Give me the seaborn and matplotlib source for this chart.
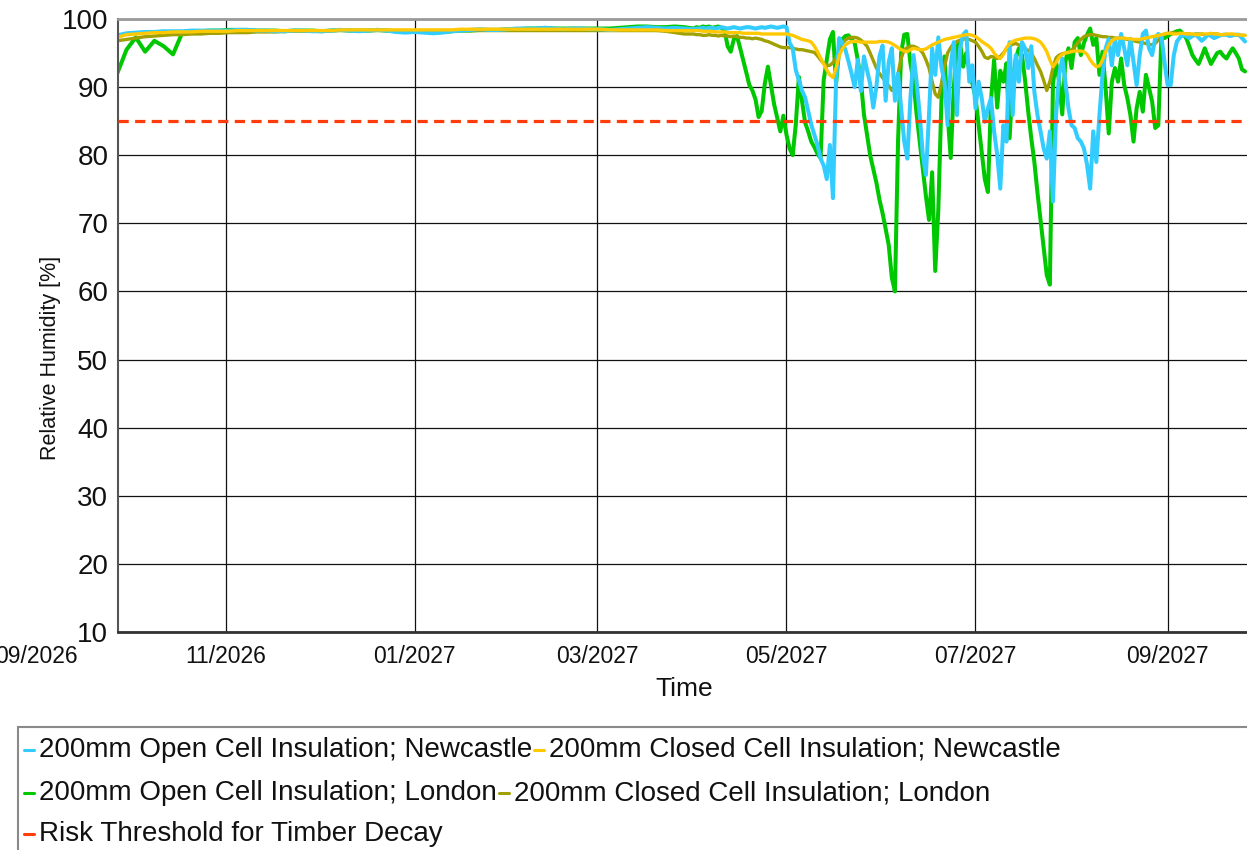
import matplotlib
matplotlib.use("Agg")
import matplotlib.pyplot as plt
import matplotlib.transforms as mtransforms
from matplotlib.lines import Line2D
from matplotlib.patches import Rectangle
import numpy as np
import pandas as pd
import seaborn as sns

# ---------------------------------------------------------------------------
# Series names, threshold and axis labels
# ---------------------------------------------------------------------------
series_labels = [
    "200mm Open Cell Insulation; Newcastle",
    "200mm Closed Cell Insulation; Newcastle",
    "200mm Open Cell Insulation; London",
    "200mm Closed Cell Insulation; London",
]
threshold_label = "Risk Threshold for Timber Decay"
threshold_value = 85.0
x_tick_labels = ["09/2026", "11/2026", "01/2027", "03/2027", "05/2027", "07/2027", "09/2027"]
y_ticks = [10, 20, 30, 40, 50, 60, 70, 80, 90, 100]

# Winter period: one reading every 3 days from 27 Sep 2026
winter_dates = pd.date_range("2026-09-27", periods=62, freq="3D")
# Summer period: daily readings from 1 Apr 2027
summer_dates = pd.date_range("2027-04-01", periods=179, freq="D")

# ---------------------------------------------------------------------------
# Relative humidity [%] at the timber surface
# ---------------------------------------------------------------------------
newcastle_open_winter = [
    97.6, 97.9, 98.0, 98.1, 98.1, 98.2, 98.2, 98.2, 98.3, 98.3,
    98.3, 98.3, 98.3, 98.4, 98.4, 98.3, 98.3, 98.2, 98.2, 98.3,
    98.3, 98.2, 98.2, 98.3, 98.4, 98.3, 98.2, 98.3, 98.4, 98.3,
    98.1, 98.0, 98.1, 98.0, 97.9, 98.0, 98.2, 98.3, 98.4, 98.5,
    98.4, 98.4, 98.5, 98.6, 98.6, 98.6, 98.7, 98.6, 98.5, 98.6,
    98.6, 98.5, 98.5, 98.4, 98.5, 98.6, 98.7, 98.8, 98.7, 98.6,
    98.7, 98.6,
]
newcastle_open_summer = [
    98.5, 98.6, 98.6, 98.7, 98.6, 98.7, 98.7, 98.6, 98.7, 98.8,
    98.7, 98.6, 98.7, 98.8, 98.7, 98.6, 98.7, 98.8, 98.8, 98.7,
    98.6, 98.7, 98.8, 98.7, 98.8, 98.9, 98.8, 98.7, 98.8, 98.9,
    98.8, 96.5, 95.7, 92.5, 91.0, 89.5, 88.5, 86.5, 84.5, 83.0,
    81.5, 79.5, 78.5, 76.5, 81.5, 73.7, 91.0, 97.2, 96.5, 95.5,
    93.8, 92.0, 90.0, 94.0, 89.4, 94.5, 92.5, 90.5, 87.0, 90.0,
    94.5, 96.1, 88.0, 93.7, 95.7, 88.0, 92.0, 86.9, 82.0, 79.5,
    88.4, 94.7, 90.8, 85.9, 80.0, 77.1, 86.0, 95.7, 91.8, 97.3,
    93.0, 90.8, 84.4, 93.2, 96.6, 85.9, 95.7, 97.7, 98.2, 90.8,
    93.2, 86.9, 90.8, 88.4, 84.9, 86.9, 88.4, 83.5, 80.1, 75.1,
    84.4, 82.0, 96.6, 85.9, 94.7, 90.8, 96.6, 95.7, 92.8, 96.0,
    89.3, 85.9, 83.5, 81.0, 79.5, 83.5, 73.2, 85.9, 91.8, 94.2,
    90.8, 86.9, 84.4, 84.0, 82.5, 82.0, 81.0, 78.6, 75.1, 83.5,
    79.0, 85.9, 91.8, 95.7, 97.1, 93.2, 97.1, 94.7, 97.8, 95.7,
    93.2, 97.1, 93.7, 90.3, 94.7, 97.8, 98.3, 95.7, 94.7, 97.2,
    97.8, 97.5, 93.7, 90.3, 90.3, 94.7, 96.7, 97.3, 97.7, 97.5,
    97.2, 97.5, 97.7, 97.3, 96.8, 97.2, 97.7, 97.5, 97.2, 97.4,
    97.6, 97.7, 97.7, 97.5, 97.6, 97.7, 97.7, 97.2, 96.7,
]

newcastle_closed_winter = [
    97.3, 97.7, 97.8, 97.9, 98.0, 98.0, 98.1, 98.1, 98.1, 98.2,
    98.2, 98.2, 98.2, 98.3, 98.3, 98.3, 98.3, 98.3, 98.3, 98.3,
    98.3, 98.3, 98.3, 98.3, 98.4, 98.4, 98.4, 98.4, 98.4, 98.4,
    98.4, 98.4, 98.4, 98.4, 98.4, 98.4, 98.4, 98.5, 98.5, 98.5,
    98.5, 98.5, 98.5, 98.5, 98.5, 98.5, 98.5, 98.5, 98.5, 98.5,
    98.5, 98.5, 98.5, 98.4, 98.4, 98.4, 98.4, 98.4, 98.4, 98.3,
    98.3, 98.3,
]
newcastle_closed_summer = [
    98.3, 98.3, 98.3, 98.2, 98.2, 98.2, 98.2, 98.1, 98.1, 98.1,
    98.1, 98.0, 98.0, 98.0, 98.0, 98.0, 97.9, 97.9, 97.9, 97.9,
    97.9, 97.9, 97.8, 97.8, 97.8, 97.8, 97.8, 97.8, 97.8, 97.8,
    97.8, 97.7, 97.6, 97.4, 97.2, 97.0, 96.9, 96.8, 96.6, 96.0,
    95.2, 94.3, 93.4, 92.5, 91.8, 91.4, 92.8, 94.6, 95.6, 96.2,
    96.5, 96.7, 96.7, 96.7, 96.6, 96.6, 96.6, 96.6, 96.6, 96.6,
    96.7, 96.7, 96.7, 96.6, 96.4, 96.1, 95.8, 95.5, 95.3, 95.2,
    95.5, 95.7, 95.6, 95.5, 95.5, 95.6, 95.9, 96.2, 96.4, 96.6,
    96.8, 97.0, 97.1, 97.2, 97.3, 97.4, 97.5, 97.6, 97.7, 97.7,
    97.6, 97.4, 97.1, 96.7, 96.4, 96.1, 95.7, 95.0, 94.5, 94.2,
    94.8, 95.8, 96.4, 96.7, 96.9, 97.0, 97.1, 97.2, 97.2, 97.2,
    97.1, 96.9, 96.6, 96.0, 95.2, 94.0, 93.0, 93.6, 94.4, 94.8,
    95.0, 95.1, 95.2, 95.3, 95.3, 95.3, 95.2, 94.8, 94.0, 93.4,
    93.0, 93.1, 94.0, 95.2, 96.2, 96.8, 97.1, 97.2, 97.2, 97.2,
    97.1, 97.1, 97.0, 97.0, 97.0, 97.1, 97.2, 97.3, 97.4, 97.5,
    97.6, 97.7, 97.8, 97.9, 97.9, 97.8, 97.8, 97.9, 97.9, 97.8,
    97.8, 97.8, 97.7, 97.7, 97.8, 97.8, 97.8, 97.9, 97.8, 97.8,
    97.7, 97.7, 97.8, 97.8, 97.8, 97.7, 97.7, 97.6, 97.6,
]

london_open_winter = [
    92.0, 95.5, 97.3, 95.2, 96.8, 96.0, 94.8, 98.0, 98.2, 98.2,
    98.3, 98.3, 98.4, 98.4, 98.4, 98.3, 98.3, 98.3, 98.2, 98.3,
    98.3, 98.3, 98.2, 98.3, 98.4, 98.3, 98.3, 98.3, 98.4, 98.3,
    98.2, 98.1, 98.2, 98.1, 98.1, 98.1, 98.2, 98.3, 98.3, 98.4,
    98.4, 98.4, 98.5, 98.5, 98.6, 98.6, 98.7, 98.6, 98.6, 98.6,
    98.6, 98.6, 98.6, 98.6, 98.7, 98.8, 98.9, 98.9, 98.8, 98.8,
    98.9, 98.8,
]
london_open_summer = [
    98.6, 98.8, 98.7, 98.9, 98.8, 98.9, 98.7, 98.8, 98.9, 98.7,
    98.4, 96.0, 95.2, 97.0, 97.5, 95.8, 94.0, 92.2, 90.3, 89.5,
    88.2, 85.6, 86.5, 90.5, 93.0, 90.2, 87.5, 85.5, 83.5, 85.8,
    83.0, 81.0, 80.0, 84.5, 91.5, 88.0, 84.8, 83.5, 82.0, 81.2,
    80.2, 79.6, 91.0, 94.0, 97.0, 98.1, 90.5, 95.5, 97.0, 97.5,
    97.6, 97.0, 96.5, 94.0, 91.0, 86.0, 83.0, 80.0, 78.0, 76.0,
    73.5, 71.5, 69.2, 66.8, 62.0, 60.0, 82.0, 95.0, 97.7, 97.8,
    93.5, 90.8, 86.0, 82.0, 78.0, 74.0, 70.5, 77.5, 63.0, 72.0,
    88.0, 94.5, 86.0, 79.6, 90.0, 96.0, 96.5, 93.0, 95.0, 92.5,
    90.5, 88.5, 84.5, 80.5, 76.5, 74.6, 88.0, 94.0, 87.0, 92.4,
    90.8, 93.5, 82.5, 90.8, 94.2, 95.7, 94.7, 91.0, 86.5, 82.5,
    79.0, 74.5, 70.5, 66.5, 62.4, 61.0, 90.5, 93.7, 90.8, 86.0,
    93.7, 95.7, 92.8, 96.6, 97.2, 94.7, 96.5, 97.7, 98.6, 96.2,
    97.2, 91.8, 95.2, 89.8, 83.2, 90.8, 92.8, 90.8, 94.2, 90.3,
    88.4, 85.9, 82.0, 86.9, 89.3, 86.4, 91.8, 89.9, 87.9, 84.0,
    84.4, 97.4, 97.2, 97.5, 97.8, 98.0, 98.2, 98.3, 97.8, 97.2,
    96.0, 94.7, 94.0, 93.4, 94.5, 95.7, 94.5, 93.4, 94.2, 95.0,
    95.2, 94.6, 94.2, 95.0, 95.7, 95.0, 94.2, 92.6, 92.3,
]

london_closed_winter = [
    96.8, 97.0, 97.2, 97.4, 97.5, 97.6, 97.7, 97.7, 97.8, 97.8,
    97.9, 97.9, 98.0, 98.0, 98.0, 98.1, 98.1, 98.1, 98.2, 98.2,
    98.2, 98.2, 98.2, 98.3, 98.3, 98.3, 98.3, 98.3, 98.3, 98.3,
    98.3, 98.3, 98.3, 98.3, 98.3, 98.3, 98.3, 98.3, 98.3, 98.3,
    98.3, 98.3, 98.3, 98.3, 98.3, 98.3, 98.3, 98.3, 98.3, 98.3,
    98.3, 98.3, 98.3, 98.3, 98.3, 98.3, 98.3, 98.3, 98.3, 98.2,
    98.0, 97.8,
]
london_closed_summer = [
    97.8, 97.7, 97.7, 97.6, 97.6, 97.7, 97.6, 97.6, 97.5, 97.6,
    97.5, 97.5, 97.4, 97.5, 97.4, 97.3, 97.3, 97.2, 97.2, 97.1,
    97.2, 97.1, 97.0, 96.8, 96.7, 96.5, 96.3, 96.1, 95.9, 95.8,
    95.8, 95.8, 95.7, 95.6, 95.5, 95.5, 95.4, 95.3, 95.2, 95.1,
    94.6, 94.0, 93.5, 93.2, 93.2, 93.6, 94.3, 95.5, 96.4, 96.9,
    97.2, 97.3, 97.3, 97.2, 96.9, 96.5, 96.0, 95.0, 93.9, 92.8,
    92.0, 91.4, 90.8, 90.2, 89.5, 89.8, 92.0, 94.2, 95.5, 95.8,
    96.0, 96.0, 95.8, 95.5, 95.0, 94.0, 92.8, 90.8, 89.0, 88.5,
    90.5, 93.0, 95.0, 95.8, 96.4, 96.7, 96.9, 97.0, 97.1, 97.0,
    96.8, 96.6, 96.0, 95.3, 94.4, 94.2, 94.5, 94.4, 94.2, 94.5,
    95.0, 95.6, 96.0, 96.3, 96.4, 96.2, 95.9, 95.6, 95.4, 95.0,
    94.2, 93.2, 92.3, 91.0, 89.5, 90.8, 92.8, 94.3, 94.7, 94.9,
    95.0, 95.1, 95.4, 95.9, 96.5, 97.0, 97.4, 97.6, 97.7, 97.7,
    97.6, 97.5, 97.4, 97.4, 97.3, 97.3, 97.2, 97.2, 97.1, 97.1,
    97.0, 96.9, 96.8, 96.7, 96.6, 96.5, 96.4, 96.3, 96.2, 96.4,
    96.9, 97.4, 97.8, 97.9, 97.9, 98.0, 97.9, 97.9, 97.8, 97.8,
    97.8, 97.7, 97.8, 97.8, 97.8, 97.7, 97.7, 97.7, 97.8, 97.8,
    97.7, 97.7, 97.7, 97.6, 97.7, 97.7, 97.6, 97.6, 97.6,
]

series_values = {
    series_labels[0]: (newcastle_open_winter, newcastle_open_summer),
    series_labels[1]: (newcastle_closed_winter, newcastle_closed_summer),
    series_labels[2]: (london_open_winter, london_open_summer),
    series_labels[3]: (london_closed_winter, london_closed_summer),
}

colors = {
    series_labels[0]: "#33CCFF",
    series_labels[1]: "#FFC800",
    series_labels[2]: "#00C800",
    series_labels[3]: "#A0A000",
}
line_widths = {
    series_labels[0]: 2.9,
    series_labels[1]: 2.4,
    series_labels[2]: 2.9,
    series_labels[3]: 2.4,
}
threshold_color = "#FF3C0A"

all_dates = winter_dates.append(summer_dates)
frames = []
for name, (winter, summer) in series_values.items():
    frames.append(pd.DataFrame({"Time": all_dates,
                                "RH": list(winter) + list(summer),
                                "Series": name}))
df = pd.concat(frames, ignore_index=True)

# ---------------------------------------------------------------------------
# Figure
# ---------------------------------------------------------------------------
sns.set_theme(style="white")
plt.rcParams["font.family"] = ["Liberation Sans", "DejaVu Sans"]

W, H = 1247, 850
fig = plt.figure(figsize=(W / 100, H / 100), dpi=100)
fig.patch.set_facecolor("white")

ax_left, ax_top, ax_bottom = 118, 19, 632
ax = fig.add_axes([ax_left / W, 1 - ax_bottom / H, (W - ax_left) / W, (ax_bottom - ax_top) / H])
ax.set_facecolor("white")

# London open first, Newcastle closed last (on top)
draw_order = [series_labels[2], series_labels[3], series_labels[0], series_labels[1]]
for name in draw_order:
    sns.lineplot(data=df[df["Series"] == name], x="Time", y="RH",
                 color=colors[name], estimator=None, sort=False,
                 linewidth=line_widths[name], legend=False, ax=ax)

ax.axhline(threshold_value, color=threshold_color, linewidth=2.3,
           dashes=(3.2, 2.0), zorder=5)

ax.set_ylim(10, 100)
ax.set_xlim(pd.Timestamp("2026-09-27 06:00"), pd.Timestamp("2027-09-26 15:00"))

tick_dates = pd.to_datetime(x_tick_labels, format="%m/%Y")
x0, x1 = ax.get_xlim()
inside = [d for d in tick_dates if x0 <= matplotlib.dates.date2num(d) <= x1]
ax.set_xticks(inside)
ax.set_xticklabels([])
ax.set_yticks(y_ticks)
ax.set_yticklabels([str(v) for v in y_ticks], fontsize=20, color="#111111")
ax.tick_params(axis="both", length=0, pad=7)
ax.tick_params(axis="x", pad=0)

ax.grid(True, color="#111111", linewidth=0.9)
ax.set_axisbelow(True)

# Date labels (the first one sits left of the plotted span)
trans = mtransforms.blended_transform_factory(ax.transData, ax.transAxes)
for d, lab in zip(tick_dates, x_tick_labels):
    ax.text(d, -0.021, lab, transform=trans, ha="center", va="top",
            fontsize=16.5, color="#111111", clip_on=False)

ax.set_xlabel("")
ax.set_ylabel("")
fig.text(684 / W, 1 - 689 / H, "Time", ha="center", va="center",
         fontsize=19, color="#111111")
fig.text(51 / W, 1 - 358 / H, "Relative Humidity [%]", ha="center", va="center",
         rotation=90, fontsize=15.5, color="#111111")

ax.spines["right"].set_visible(False)
ax.spines["top"].set_color("#9a9a9a")
ax.spines["top"].set_linewidth(2.0)
ax.spines["left"].set_color("#555555")
ax.spines["left"].set_linewidth(1.5)
ax.spines["bottom"].set_color("#333333")
ax.spines["bottom"].set_linewidth(2.0)

# ---------------------------------------------------------------------------
# Legend: entries flow left to right inside a framed box under the plot
# ---------------------------------------------------------------------------
fig.add_artist(Rectangle((18 / W, -0.05), 1.1, (850 - 727) / H + 0.05,
                         transform=fig.transFigure, facecolor="white",
                         edgecolor="#8a8a8a", linewidth=1.5, zorder=1))

legend_rows = [
    [(colors[series_labels[0]], series_labels[0]), (colors[series_labels[1]], series_labels[1])],
    [(colors[series_labels[2]], series_labels[2]), (colors[series_labels[3]], series_labels[3])],
    [(threshold_color, threshold_label)],
]
row_centres = [750, 793, 834]
renderer = fig.canvas.get_renderer()
for row, yc in zip(legend_rows, row_centres):
    x = 24
    yf = 1 - yc / H
    for col, lab in row:
        fig.add_artist(Line2D([x / W, (x + 10) / W], [yf, yf], color=col,
                              linewidth=2.2, transform=fig.transFigure, zorder=3))
        t = fig.text((x + 15) / W, yf, lab, ha="left", va="center",
                     fontsize=20, color="#111111", zorder=3)
        bb = t.get_window_extent(renderer)
        x = bb.x1 + 2

fig.savefig("out.png", dpi=100, facecolor="white")
